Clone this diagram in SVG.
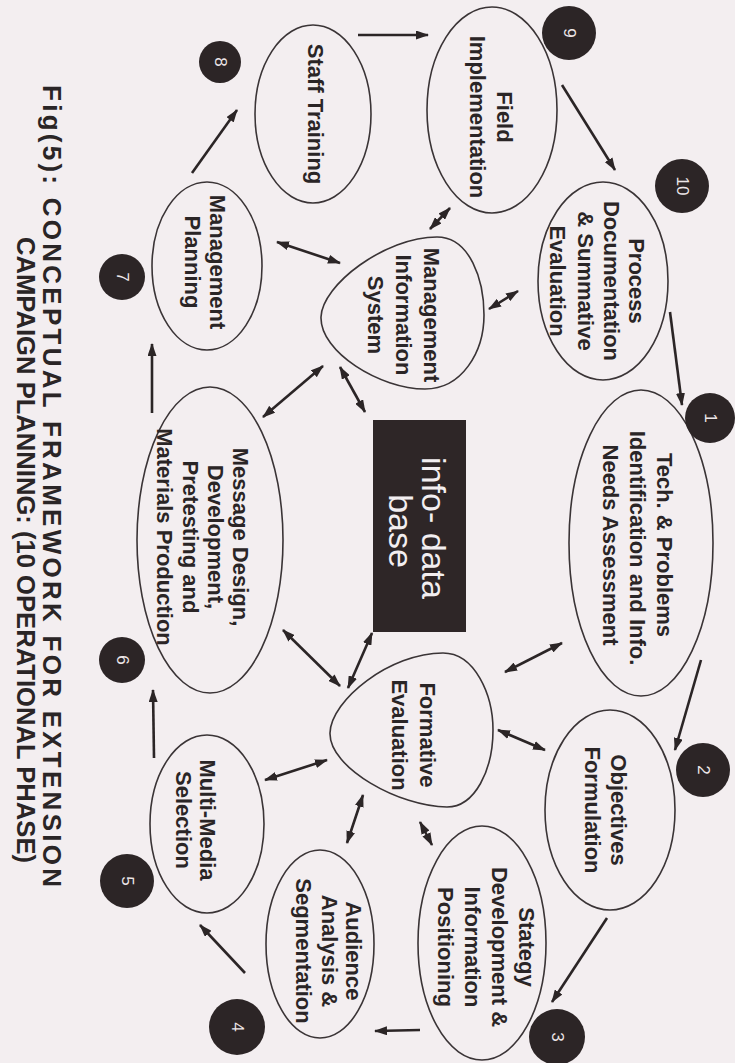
<svg xmlns="http://www.w3.org/2000/svg" width="735" height="1063" viewBox="0 0 735 1063">
<style>
.bg{fill:#f3eef0}
.el{fill:none;stroke:#3a3436;stroke-width:1.6}
.nt{font-family:"Liberation Sans",Arial,sans-serif;font-weight:bold;font-size:22px;fill:#2a2526;text-anchor:middle;dominant-baseline:central}
.bd{fill:#2c2526}
.bt{font-family:"Liberation Sans",Arial,sans-serif;font-size:17px;fill:#ece6e8;text-anchor:middle;dominant-baseline:central}
.ln{stroke:#2b2526;stroke-width:2.6;fill:none}
.one{marker-end:url(#ah)}
.two{marker-start:url(#ah);marker-end:url(#ah)}
.tt{font-family:"Liberation Sans",Arial,sans-serif;font-weight:bold;font-size:26px;fill:#2a2526;dominant-baseline:central}
.db{font-family:"Liberation Sans",Arial,sans-serif;font-size:34px;fill:#f2eef0;text-anchor:middle;dominant-baseline:central}
</style>
<defs>
<marker id="ah" viewBox="0 0 13 9" refX="12" refY="4.5" markerWidth="13" markerHeight="9" markerUnits="userSpaceOnUse" orient="auto-start-reverse">
<path d="M0,0 L13,4.5 L0,9 Z" fill="#2b2526"/>
</marker>
</defs>
<rect class="bg" x="0" y="0" width="735" height="1063"/>

<g id="connectors">
<line class="ln one" x1="358" y1="35" x2="428" y2="35"/>
<line class="ln one" x1="562" y1="85" x2="615" y2="170"/>
<line class="ln one" x1="670" y1="312" x2="682" y2="405"/>
<line class="ln one" x1="701" y1="660" x2="675" y2="750"/>
<line class="ln one" x1="607" y1="918" x2="552" y2="1002"/>
<line class="ln one" x1="420" y1="1030" x2="375" y2="1031"/>
<line class="ln one" x1="245" y1="973" x2="200" y2="925"/>
<line class="ln one" x1="154" y1="758" x2="153" y2="690"/>
<line class="ln one" x1="152" y1="413" x2="152" y2="344"/>
<line class="ln one" x1="192" y1="173" x2="237" y2="110"/>
<line class="ln two" x1="277" y1="242" x2="340" y2="263"/>
<line class="ln two" x1="430" y1="229" x2="450" y2="208"/>
<line class="ln two" x1="489" y1="309" x2="518" y2="291"/>
<line class="ln two" x1="263" y1="417" x2="323" y2="366"/>
<line class="ln two" x1="340" y1="367" x2="365" y2="412"/>
<line class="ln two" x1="348" y1="688" x2="372" y2="633"/>
<line class="ln two" x1="283" y1="630" x2="340" y2="686"/>
<line class="ln two" x1="505" y1="672" x2="562" y2="643"/>
<line class="ln two" x1="498" y1="730" x2="545" y2="750"/>
<line class="ln two" x1="420" y1="822" x2="432" y2="845"/>
<line class="ln two" x1="265" y1="780" x2="327" y2="760"/>
<line class="ln two" x1="347" y1="843" x2="363" y2="795"/>
</g>

<g id="info-base">
<rect x="373" y="420" width="93" height="212" fill="#2e2627"/>
<text class="db" transform="rotate(90)"><tspan x="528" y="-434">info- data</tspan><tspan x="531" y="-401">base</tspan></text>
</g>

<g id="mis">
<path class="el" d="M321,317 C322,285 385,237 437,237 C470,237 484,280 484,315 C484,352 462,389 425,389 C380,389 320,352 321,317 Z"/>
<text class="nt" transform="rotate(90)"><tspan x="315" y="-432">Management</tspan><tspan x="315" y="-404">Information</tspan><tspan x="315" y="-376">System</tspan></text>
</g>

<g id="formative">
<path class="el" d="M330,733 C331,700 390,653 443,653 C475,653 493,695 493,730 C493,770 475,807 447,807 C400,807 329,768 330,733 Z"/>
<text class="nt" transform="rotate(90)"><tspan x="735" y="-428">Formative</tspan><tspan x="735" y="-400">Evaluation</tspan></text>
</g>

<g id="n1">
<ellipse class="el" cx="641" cy="543" rx="72" ry="153"/>
<text class="nt" transform="rotate(90)"><tspan x="545" y="-665">Tech. &amp; Problems</tspan><tspan x="548" y="-638">Identification and Info.</tspan><tspan x="545" y="-611">Needs Assessment</tspan></text>
<circle class="bd" cx="710" cy="418" r="25"/>
<text class="bt" transform="rotate(90)" x="418" y="-710">1</text>
</g>

<g id="n2">
<ellipse class="el" cx="610" cy="810" rx="65" ry="100"/>
<text class="nt" transform="rotate(90)"><tspan x="810" y="-619">Objectives</tspan><tspan x="810" y="-593">Formulation</tspan></text>
<circle class="bd" cx="703" cy="770" r="27"/>
<text class="bt" transform="rotate(90)" x="770" y="-703">2</text>
</g>

<g id="n3">
<ellipse class="el" cx="482" cy="943" rx="64" ry="117"/>
<text class="nt" transform="rotate(90)"><tspan x="947" y="-527">Stategy</tspan><tspan x="947" y="-500">Development &amp;</tspan><tspan x="947" y="-473">Information</tspan><tspan x="947" y="-446">Positioning</tspan></text>
<circle class="bd" cx="557" cy="1037" r="28"/>
<text class="bt" transform="rotate(90)" x="1037" y="-557">3</text>
</g>

<g id="n4">
<ellipse class="el" cx="320" cy="944" rx="54" ry="94"/>
<text class="nt" transform="rotate(90)"><tspan x="951" y="-354">Audience</tspan><tspan x="951" y="-330">Analysis &amp;</tspan><tspan x="951" y="-304">Segmentation</tspan></text>
<circle class="bd" cx="237" cy="1027" r="28"/>
<text class="bt" transform="rotate(90)" x="1027" y="-237">4</text>
</g>

<g id="n5">
<ellipse class="el" cx="207" cy="824" rx="57" ry="89"/>
<text class="nt" transform="rotate(90)"><tspan x="820" y="-208">Multi-Media</tspan><tspan x="820" y="-184">Selection</tspan></text>
<circle class="bd" cx="127" cy="881" r="27"/>
<text class="bt" transform="rotate(90)" x="881" y="-127">5</text>
</g>

<g id="n6">
<ellipse class="el" cx="210" cy="540" rx="73" ry="153"/>
<text class="nt" transform="rotate(90)"><tspan x="537" y="-241">Message Design,</tspan><tspan x="537" y="-216">Development,</tspan><tspan x="537" y="-191">Pretesting and</tspan><tspan x="537" y="-165">Materials Production</tspan></text>
<circle class="bd" cx="122" cy="660" r="23"/>
<text class="bt" transform="rotate(90)" x="660" y="-122">6</text>
</g>

<g id="n7">
<ellipse class="el" cx="207" cy="266" rx="55" ry="84"/>
<text class="nt" transform="rotate(90)"><tspan x="262" y="-218">Management</tspan><tspan x="262" y="-193">Planning</tspan></text>
<circle class="bd" cx="122" cy="277" r="23"/>
<text class="bt" transform="rotate(90)" x="277" y="-122">7</text>
</g>

<g id="n8">
<ellipse class="el" cx="313" cy="114" rx="58" ry="89"/>
<text class="nt" transform="rotate(90)" x="114" y="-315">Staff Training</text>
<circle class="bd" cx="220" cy="62" r="21"/>
<text class="bt" transform="rotate(90)" x="62" y="-220">8</text>
</g>

<g id="n9">
<ellipse class="el" cx="492" cy="110" rx="65" ry="103"/>
<text class="nt" transform="rotate(90)"><tspan x="117" y="-505">Field</tspan><tspan x="117" y="-478">Implementation</tspan></text>
<circle class="bd" cx="569" cy="33" r="27"/>
<text class="bt" transform="rotate(90)" x="33" y="-569">9</text>
</g>

<g id="n10">
<ellipse class="el" cx="603" cy="281" rx="65" ry="99"/>
<text class="nt" transform="rotate(90)"><tspan x="281" y="-637">Process</tspan><tspan x="281" y="-612">Documentation</tspan><tspan x="281" y="-586">&amp; Summative</tspan><tspan x="281" y="-558">Evaluation</tspan></text>
<circle class="bd" cx="682" cy="186" r="27"/>
<text class="bt" transform="rotate(90)" x="186" y="-682">10</text>
</g>

<g id="title">
<text class="tt" transform="rotate(90)" x="85" y="-52" textLength="802" lengthAdjust="spacing">Fig(5): CONCEPTUAL FRAMEWORK FOR EXTENSION</text>
<text class="tt" transform="rotate(90)" x="237" y="-26" textLength="626" lengthAdjust="spacingAndGlyphs">CAMPAIGN PLANNING: (10 OPERATIONAL PHASE)</text>
</g>
</svg>
